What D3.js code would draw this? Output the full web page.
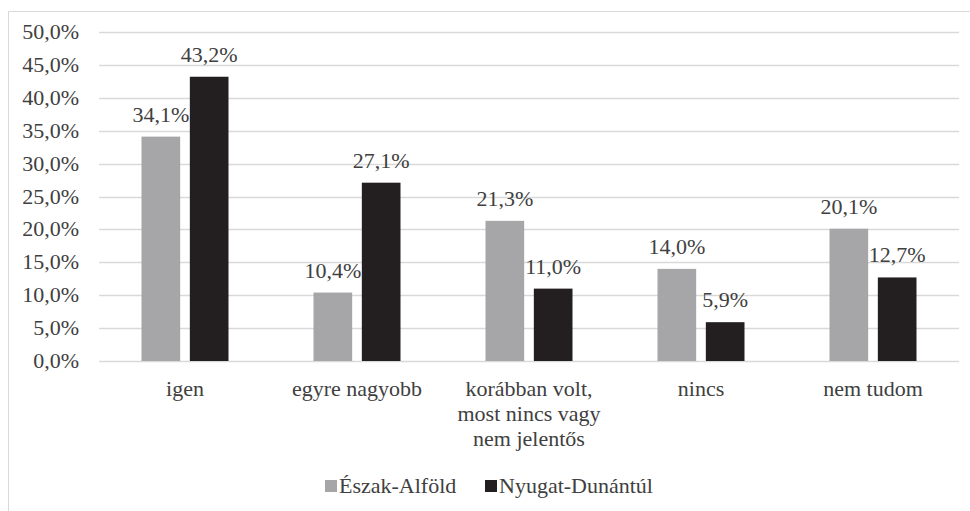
<!DOCTYPE html>
<html>
<head>
<meta charset="utf-8">
<script src="https://cdn.jsdelivr.net/npm/d3@7"></script>
</head>
<body style="margin:0">
<script>
// chart data
var categories = ["igen", "egyre nagyobb", "korábban volt,\nmost nincs vagy\nnem jelentős", "nincs", "nem tudom"];
var seriesNames = ["Észak-Alföld", "Nyugat-Dunántúl"];
var eszakAlfold = [34.1, 10.4, 21.3, 14.0, 20.1];
var nyugatDunantul = [43.2, 27.1, 11.0, 5.9, 12.7];
var yTicks = [0, 5, 10, 15, 20, 25, 30, 35, 40, 45, 50];
var colors = ["#a6a6a8", "#231f20"];

var W = 970, H = 511;
var margin = {top: 32, right: 11, bottom: 150, left: 99};
var width = W - margin.left - margin.right,
    height = 361 - margin.top;

function txt(sel) {
    return sel.style("font-family", "'Liberation Serif'")
        .style("font-size", "22px")
        .style("fill", "#404040");
}
function pct(v) { return d3.format(".1f")(v).replace(".", ",") + "%"; }

var svg = d3.select("body").append("svg")
    .attr("width", W)
    .attr("height", H);

// outer frame (only top and left visible)
svg.append("path")
    .attr("d", "M8.5," + H + "V11.5H" + W)
    .attr("fill", "none")
    .attr("stroke", "#d9d9d9")
    .attr("stroke-width", 1);

var x = d3.scaleBand()
    .domain(categories)
    .range([margin.left, margin.left + width]);

var x1 = d3.scaleBand()
    .domain(seriesNames)
    .range([x.bandwidth() / 2 - 43.5, x.bandwidth() / 2 + 43.5])
    .paddingInner(0.2);

var y = d3.scaleLinear()
    .domain([0, 50])
    .range([margin.top + height, margin.top]);

// gridlines
svg.append("g")
    .selectAll("line")
    .data(yTicks)
    .enter().append("line")
    .attr("x1", margin.left)
    .attr("x2", margin.left + width)
    .attr("y1", function(d) { return Math.round(y(d)) + 0.5; })
    .attr("y2", function(d) { return Math.round(y(d)) + 0.5; })
    .attr("stroke", "#d9d9d9")
    .attr("stroke-width", 1.5);

// y tick labels (right aligned, 20px left of the plot)
svg.append("g")
    .selectAll("text")
    .data(yTicks)
    .enter().append("text")
    .attr("x", margin.left - 20)
    .attr("y", function(d) { return y(d) + 7; })
    .attr("text-anchor", "end")
    .call(txt)
    .text(pct);

var rows = categories.map(function(c, i) {
    return {cat: c, vals: [eszakAlfold[i], nyugatDunantul[i]]};
});

function pairs(d) {
    return d.vals.map(function(v, j) { return {cat: d.cat, name: seriesNames[j], v: v, j: j}; });
}
var bars = [];
rows.forEach(function(r) { bars = bars.concat(pairs(r)); });

svg.append("g")
    .selectAll("rect")
    .data(bars)
    .enter().append("rect")
    .attr("x", function(d) { return x(d.cat) + x1(d.name); })
    .attr("width", x1.bandwidth())
    .attr("y", function(d) { return y(d.v); })
    .attr("height", function(d) { return y(0) - y(d.v); })
    .attr("fill", function(d) { return colors[d.j]; });

svg.append("g")
    .selectAll("text")
    .data(bars)
    .enter().append("text")
    .attr("x", function(d) { return x(d.cat) + x1(d.name) + x1.bandwidth() / 2; })
    .attr("y", function(d) { return y(d.v) - 15; })
    .attr("text-anchor", "middle")
    .call(txt)
    .text(function(d) { return pct(d.v); });

// category labels, one text per line
var catLines = [];
categories.forEach(function(c) {
    c.split("\n").forEach(function(line, i) { catLines.push({cat: c, line: line, i: i}); });
});

svg.append("g")
    .selectAll("text")
    .data(catLines)
    .enter().append("text")
    .attr("x", function(d) { return x(d.cat) + x.bandwidth() / 2; })
    .attr("y", function(d) { return y(0) + 35 + d.i * 25; })
    .attr("text-anchor", "middle")
    .call(txt)
    .text(function(d) { return d.line; });

// legend
var legendX = [325, 485];

svg.append("g")
    .selectAll("rect")
    .data(seriesNames)
    .enter().append("rect")
    .attr("x", function(d, i) { return legendX[i]; })
    .attr("y", 480)
    .attr("width", 12)
    .attr("height", 12)
    .attr("fill", function(d, i) { return colors[i]; });

svg.append("g")
    .selectAll("text")
    .data(seriesNames)
    .enter().append("text")
    .attr("x", function(d, i) { return legendX[i] + 14; })
    .attr("y", 493)
    .call(txt)
    .text(function(d) { return d; });
</script>
</body>
</html>
